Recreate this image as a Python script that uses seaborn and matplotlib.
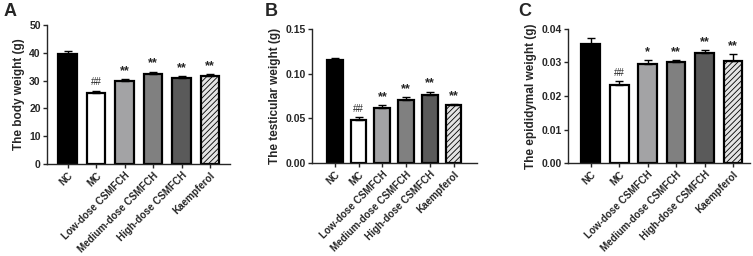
import numpy as np
import pandas as pd
import seaborn as sns
import matplotlib.pyplot as plt

groups = ["NC", "MC", "Low-dose CSMFCH", "Medium-dose CSMFCH", "High-dose CSMFCH", "Kaempferol"]
colors = ["#000000", "#ffffff", "#a2a2a6", "#808080", "#5a5a5a", "#e4e4e4"]

body = [39.5, 25.7, 30.0, 32.5, 30.9, 31.6]
body_err = [1.3, 0.7, 0.6, 0.8, 0.8, 0.8]
body_sig = ["", "##", "**", "**", "**", "**"]

testis = [0.115, 0.048, 0.062, 0.070, 0.076, 0.065]
testis_err = [0.003, 0.003, 0.0025, 0.0035, 0.004, 0.001]
testis_sig = ["", "##", "**", "**", "**", "**"]

epi = [0.0355, 0.0234, 0.0295, 0.0300, 0.0327, 0.0303]
epi_err = [0.0017, 0.001, 0.0013, 0.0008, 0.0011, 0.0021]
epi_sig = ["", "##", "*", "**", "**", "**"]

sns.set_style("ticks")
plt.rcParams['font.family'] = ['Liberation Sans', 'DejaVu Sans']
plt.rcParams['font.weight'] = 'bold'
plt.rcParams['hatch.linewidth'] = 0.6

fig = plt.figure(figsize=(7.53, 2.56), dpi=100)

# letter, values, errors, stars, y label, ylim, yticks, format, axes rect, xlim, letter x
panels = [
    ("A", body, body_err, body_sig, "The body weight (g)", (0, 50), [0, 10, 20, 30, 40, 50], "{:.0f}",
     [0.0624, 0.359, 0.243, 0.543], (-0.72, 5.7), 0.005),
    ("B", testis, testis_err, testis_sig, "The testicular weight (g)", (0, 0.15), [0, 0.05, 0.10, 0.15], "{:.2f}",
     [0.414, 0.363, 0.219, 0.524], (-0.97, 5.97), 0.352),
    ("C", epi, epi_err, epi_sig, "The epididymal weight (g)", (0, 0.04), [0, 0.01, 0.02, 0.03, 0.04], "{:.2f}",
     [0.754, 0.363, 0.242, 0.524], (-0.81, 5.6), 0.688),
]

for letter, vals, errs, sigs, ylab, ylim, yt, fmt, pos, xlim, lx in panels:
    ax = fig.add_axes(pos)
    df = pd.DataFrame({"group": groups, "value": vals})
    sns.barplot(data=df, x="group", y="value", hue="group", palette=colors, legend=False,
                width=0.66, edgecolor="black", linewidth=1.6, errorbar=None, ax=ax)
    ax.errorbar(np.arange(len(vals)), vals, yerr=[np.zeros(len(vals)), errs], fmt="none",
                ecolor="black", elinewidth=1, capsize=3, capthick=1, zorder=1)
    ax.patches[-1].set_hatch("//////")
    for i, (v, e, s) in enumerate(zip(vals, errs, sigs)):
        if s:
            star = s.startswith("*")
            ax.text(i, v + e + ylim[1] * (0.015 if star else 0.025), s, ha="center", va="bottom",
                    fontsize=9 if star else 7, fontweight="bold" if star else "normal")
    ax.set_ylim(*ylim)
    ax.set_xlim(*xlim)
    ax.set_yticks(yt)
    ax.set_yticklabels([fmt.format(t) for t in yt], fontsize=7.5, fontweight="bold")
    ax.set_xticks(range(len(groups)))
    ax.set_xticklabels(groups, rotation=45, ha="right", rotation_mode="anchor", fontsize=7.1, fontweight="bold")
    ax.set_xlabel("")
    ax.set_ylabel(ylab, fontsize=8.5, fontweight="bold", labelpad=3)
    ax.tick_params(axis="both", length=3, width=1, pad=1.5)
    for sp in ["left", "bottom"]:
        ax.spines[sp].set_linewidth(1)
    sns.despine(ax=ax)
    fig.text(lx, 0.92, letter, fontsize=13, fontweight="bold", va="bottom")

fig.savefig("out.png", dpi=100)
